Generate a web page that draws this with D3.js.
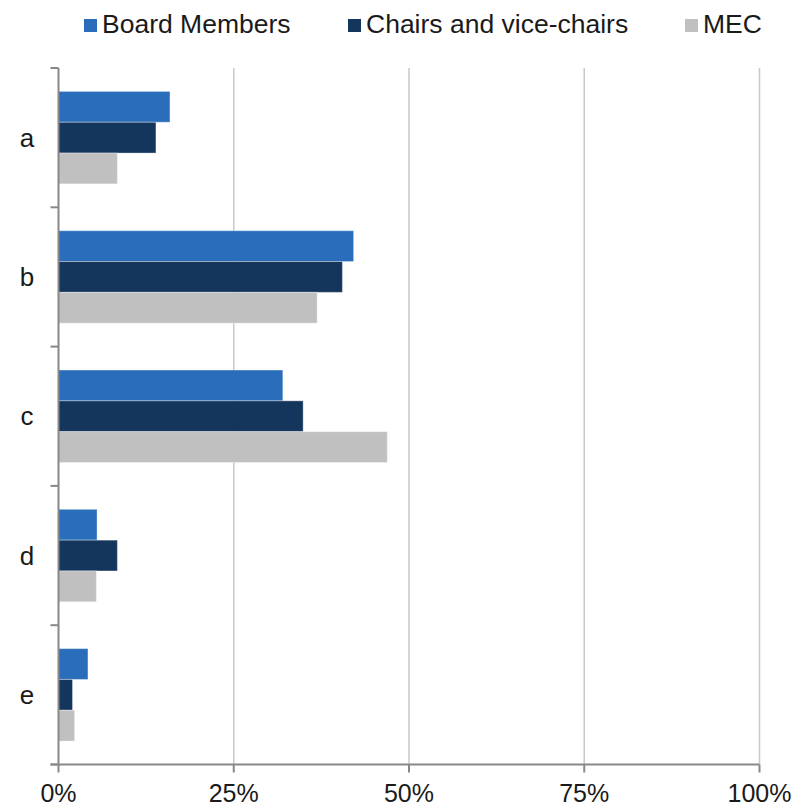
<!DOCTYPE html>
<html lang="en">
<head>
    <meta charset="UTF-8">
    <title>Grouped Bar Chart</title>
    <style>
        body { margin: 0; background: #fff; }
        svg text { font-family: 'Liberation Sans', Arial, sans-serif; fill: #1a1a1a; }
    </style>
</head>
<body>
    <svg id="chart" width="795" height="808"></svg>

    <script src="https://d3js.org/d3.v7.min.js"></script>
    <script>
        // Data
        const categories = ['a', 'b', 'c', 'd', 'e'];
        const seriesNames = ['Board Members', 'Chairs and vice-chairs', 'MEC'];
        const boardMembers = [15.9, 42.1, 32.0, 5.5, 4.2];
        const chairs = [13.9, 40.5, 34.9, 8.4, 2.0];
        const mec = [8.4, 36.9, 46.9, 5.4, 2.3];
        const xTicks = [0, 25, 50, 75, 100];

        const seriesValues = [boardMembers, chairs, mec];
        const colors = ['#2a6ebb', '#15365c', '#c0c0c0'];

        const svg = d3.select('#chart');
        const plotLeft = 58.5, plotRight = 759.5, plotTop = 68, plotBottom = 764.5;

        const x = d3.scaleLinear().domain([0, 100]).range([plotLeft, plotRight]);
        const y0 = d3.scaleBand().domain(categories).range([plotTop, plotBottom]);
        const y1 = d3.scaleBand().domain(seriesNames)
            .range([0, y0.bandwidth()])
            .paddingInner(0)
            .paddingOuter(0.76);

        // gridlines
        svg.append('g')
            .selectAll('line')
            .data(xTicks.filter(d => d > 0))
            .enter()
            .append('line')
            .attr('x1', d => x(d))
            .attr('x2', d => x(d))
            .attr('y1', plotTop)
            .attr('y2', plotBottom)
            .attr('stroke', '#c8c8c8')
            .attr('stroke-width', 1.5);

        // bars
        const rows = categories.map((c, i) => ({
            cat: c,
            values: seriesNames.map((s, j) => ({ name: s, value: seriesValues[j][i], idx: j }))
        }));

        const groups = svg.append('g')
            .selectAll('g')
            .data(rows)
            .enter()
            .append('g')
            .attr('transform', d => `translate(0,${y0(d.cat)})`);

        groups.selectAll('rect')
            .data(d => d.values)
            .enter()
            .append('rect')
            .attr('x', x(0))
            .attr('y', d => y1(d.name))
            .attr('width', d => x(d.value) - x(0))
            .attr('height', y1.bandwidth())
            .attr('fill', d => colors[d.idx])
            .attr('stroke', 'rgba(255,255,255,0.35)')
            .attr('stroke-width', 1);

        // y axis
        const yAxis = svg.append('g')
            .attr('transform', `translate(${plotLeft},0)`);
        yAxis.append('line')
            .attr('x1', 0).attr('x2', 0)
            .attr('y1', plotTop).attr('y2', plotBottom)
            .attr('stroke', '#888').attr('stroke-width', 2);
        const yTickPos = categories.map(c => y0(c)).concat([plotBottom]);
        yAxis.selectAll('.ytick')
            .data(yTickPos)
            .enter()
            .append('line')
            .attr('class', 'ytick')
            .attr('x1', -8).attr('x2', 0)
            .attr('y1', d => d).attr('y2', d => d)
            .attr('stroke', '#888').attr('stroke-width', 2);

        svg.append('g')
            .selectAll('text')
            .data(categories)
            .enter()
            .append('text')
            .attr('x', 27)
            .attr('y', d => y0(d) + y0.bandwidth() / 2)
            .attr('dy', '0.35em')
            .attr('text-anchor', 'middle')
            .style('font-size', '26px')
            .text(d => d);

        // x axis
        const xAxis = svg.append('g');
        xAxis.append('line')
            .attr('x1', plotLeft - 8).attr('x2', plotRight)
            .attr('y1', plotBottom).attr('y2', plotBottom)
            .attr('stroke', '#888').attr('stroke-width', 2);
        xAxis.selectAll('.xtick')
            .data(xTicks)
            .enter()
            .append('line')
            .attr('class', 'xtick')
            .attr('x1', d => x(d)).attr('x2', d => x(d))
            .attr('y1', plotBottom).attr('y2', plotBottom + 8)
            .attr('stroke', '#888').attr('stroke-width', 2);
        xAxis.selectAll('text')
            .data(xTicks)
            .enter()
            .append('text')
            .attr('x', d => x(d))
            .attr('y', 802)
            .attr('text-anchor', 'middle')
            .style('font-size', '25px')
            .text(d => d + '%');

        // legend
        const legendX = [84, 348, 685];
        const legend = svg.append('g')
            .selectAll('g')
            .data(seriesNames)
            .enter()
            .append('g')
            .attr('transform', (d, i) => `translate(${legendX[i]},0)`);
        legend.append('rect')
            .attr('x', 0).attr('y', 19)
            .attr('width', 13).attr('height', 13)
            .attr('fill', (d, i) => colors[i]);
        legend.append('text')
            .attr('x', 18)
            .attr('y', 32.5)
            .style('font-size', '26.5px')
            .text(d => d);
    </script>
</body>
</html>
